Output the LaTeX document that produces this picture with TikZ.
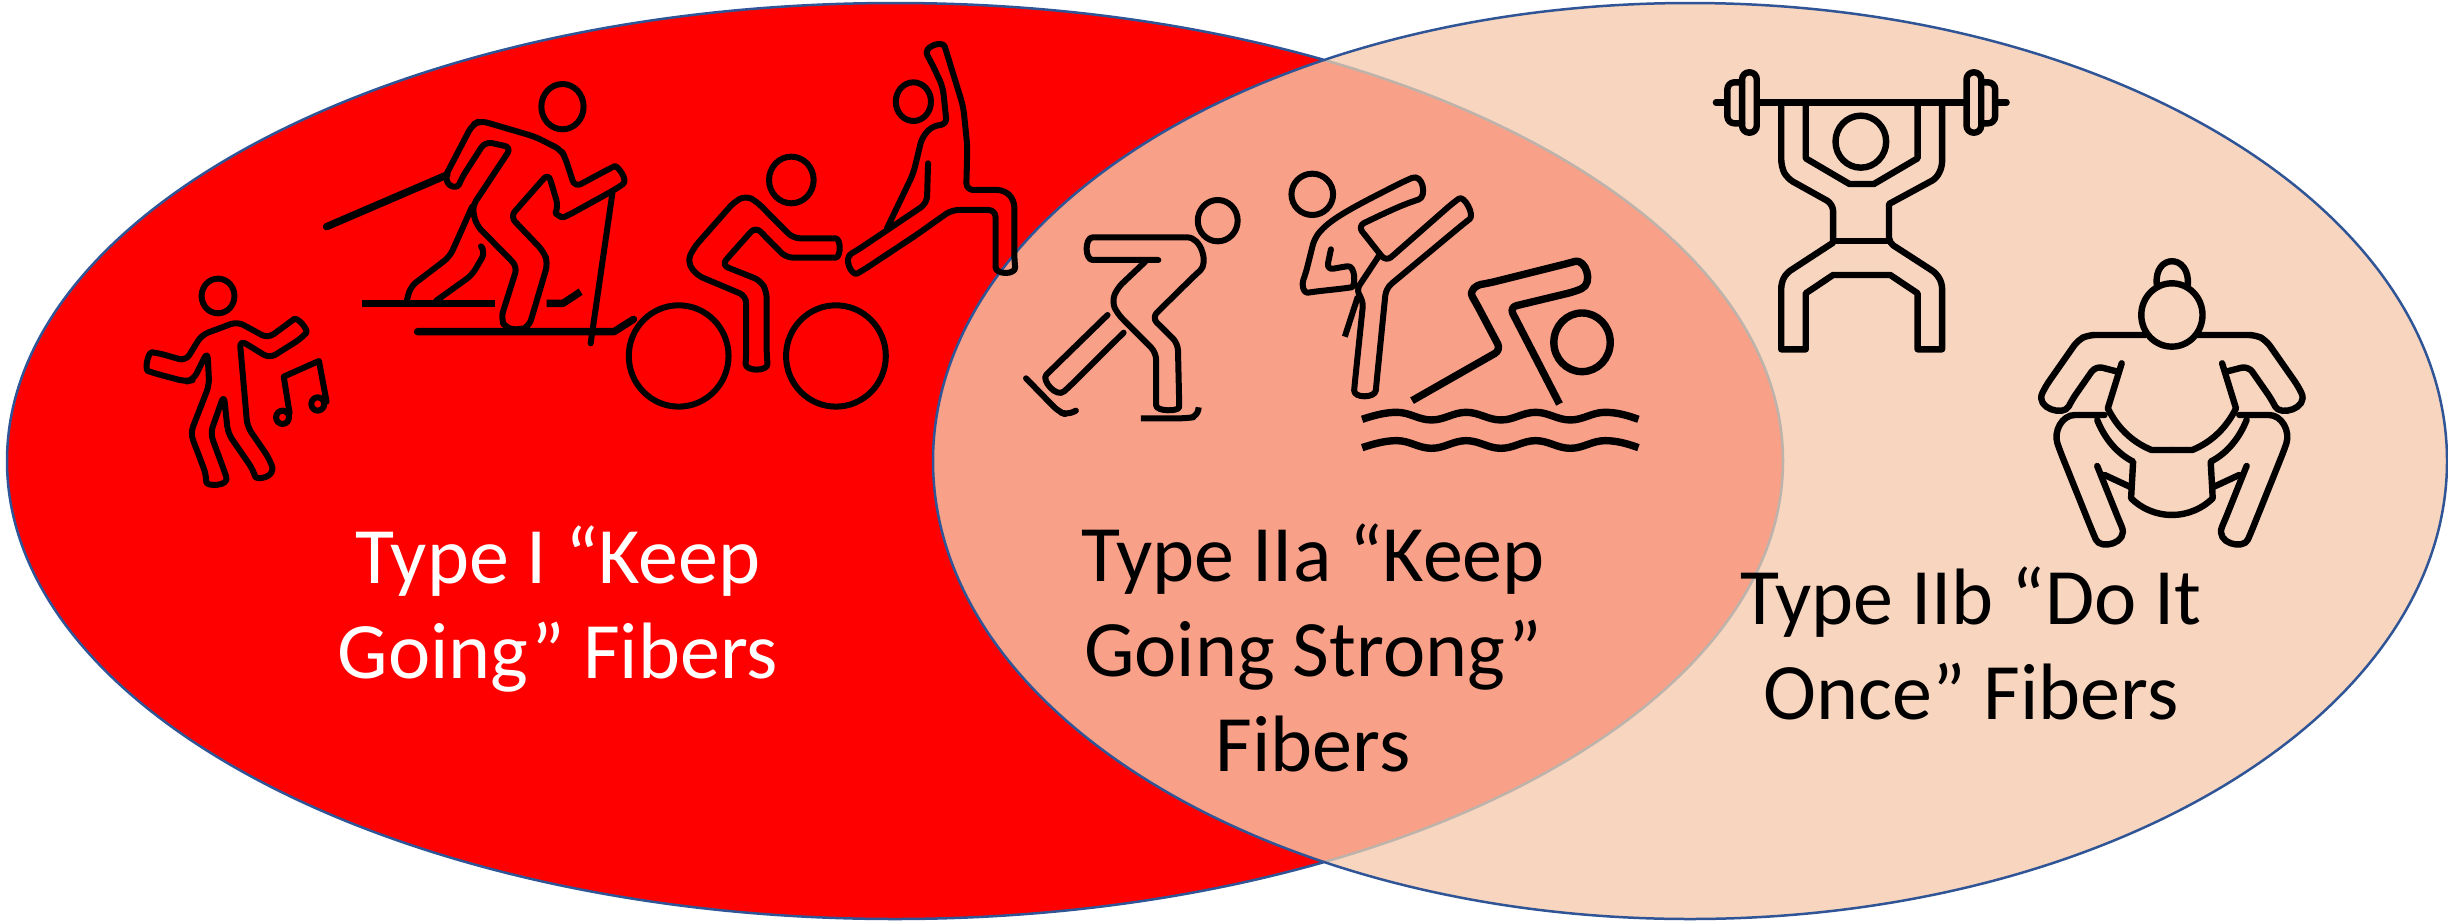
\documentclass[tikz,border=0pt]{standalone}
\usepackage{fontspec}
\setmainfont{Carlito}
\definecolor{edgeblue}{HTML}{2F5597}
\definecolor{peach}{HTML}{F8D5BF}
\definecolor{salmon}{HTML}{F9A088}
\definecolor{edgegrey}{HTML}{BDB3AA}
\tikzset{
  ink/.style={draw=black,line width=6.4pt,line join=round,line cap=round,rounded corners=7pt},
  inkthin/.style={ink,line width=6pt},
  inkbold/.style={ink,line width=7.4pt},
  label/.style={font=\fontsize{80}{95}\selectfont,align=center,inner sep=0pt},
  zoomA/.style={shift={(130,30)},x=0.5868pt,y=-0.3333pt},
  zoomB/.style={shift={(1000,160)},x=0.4337pt,y=-0.3333pt},
  zoomC/.style={shift={(1680,50)},x=0.4082pt,y=-0.3333pt},
}
\newcommand{\sumohalf}{
  \draw[ink] (1140,855) -- (1000,855) -- (975,870) -- (895,1010) .. controls (870,1075) and (940,1100) .. (960,1050) -- (1018,948) -- (1072,965);
  \draw[ink,sharp corners] (1082,940) -- (1048,1075) .. controls (1070,1130) and (1105,1175) .. (1155,1200) -- (1205,1200);
  \draw[ink,sharp corners] (1022,1110) .. controls (1040,1165) and (1070,1210) .. (1110,1235) -- (1105,1345) .. controls (1130,1375) and (1165,1395) .. (1205,1395);
  \draw[ink] (1040,1095) -- (985,1095) .. controls (935,1095) and (915,1145) .. (930,1200) -- (1012,1450) .. controls (1030,1500) and (1100,1480) .. (1075,1410) -- (1022,1248);
  \draw[ink,sharp corners] (1040,1275) -- (1105,1312);
}
\begin{document}
\begin{tikzpicture}[x=1pt,y=-1pt]
\useasboundingbox (0,0) rectangle (2448,921);
% ellipses
\coordinate (cl) at (895,461);
\coordinate (cr) at (1690,461);
\path[fill=red] (cl) ellipse [x radius=888,y radius=458];
\path[fill=peach] (cr) ellipse [x radius=757,y radius=458];
\begin{scope}
  \clip (cl) ellipse [x radius=888,y radius=458];
  \path[fill=salmon] (cr) ellipse [x radius=757,y radius=458];
  \draw[edgeblue,line width=2.5pt] (cr) ellipse [x radius=757,y radius=458];
\end{scope}
\begin{scope}
  \clip (cr) ellipse [x radius=757,y radius=458];
  \draw[edgegrey,line width=2.5pt] (cl) ellipse [x radius=888,y radius=458];
\end{scope}
\begin{scope}
  \clip (-1,-1) rectangle (1324,925);
  \draw[edgeblue,line width=2.5pt] (cl) ellipse [x radius=888,y radius=458];
\end{scope}
\begin{scope}
  \clip (1324,-1) rectangle (2449,925);
  \draw[edgeblue,line width=2.5pt] (cr) ellipse [x radius=757,y radius=458];
\end{scope}
% left icons
\begin{scope}[zoomA]
  % dancer
  \draw[inkthin] (150,798) ellipse [x radius=28,y radius=52];
  \draw[inkthin] (187,930) -- (200,1190) -- (237,1285) .. controls (250,1345) and (215,1350) .. (210,1320) -- (167,1210) -- (160,1095) -- (137,1210) -- (160,1320) .. controls (170,1370) and (130,1370) .. (130,1335) -- (103,1210) -- (135,1065) -- (132,965) -- (108,1050) -- (95,1055) -- (42,1030) .. controls (25,1020) and (30,965) .. (50,970) -- (95,993) -- (122,915) -- (183,875) -- (235,925) -- (270,880) .. controls (285,860) and (305,900) .. (292,925) -- (238,985) -- cycle;
  \draw[inkthin,sharp corners] (272,1150) -- (262,1040) -- (322,993) -- (335,1115);
  \draw[inkthin] (260,1162) ellipse [x radius=11,y radius=20];
  \draw[inkthin] (320,1122) ellipse [x radius=11,y radius=20];
  % skier
  \draw[inkthin] (737,230) ellipse [x radius=36,y radius=68];
  \draw[inkthin] (540,430) -- (583,285) -- (597,272) -- (690,320) -- (735,360) -- (742,385) -- (758,472) -- (815,418) .. controls (830,405) and (850,450) .. (830,475) -- (750,553) .. controls (735,565) and (725,550) .. (730,530) -- (713,430) -- (648,560) -- (705,665) -- (712,700) -- (680,890) -- (665,900) -- (640,895) -- (632,865) -- (660,710) -- (590,585) -- (583,530) -- (650,352) -- (605,335) -- (565,445) .. controls (558,475) and (535,475) .. (540,430);
  \draw[inkthin] (583,530) -- (545,680) -- (478,770) -- (472,810);
  \draw[inkthin] (522,812) -- (583,735) -- (606,665) -- (601,655);
  \draw[inkbold,sharp corners,line cap=butt] (395,820) -- (622,820);
  \draw[inkbold,sharp corners,line cap=butt] (710,820) -- (738,820) -- (768,785);
  \draw[inkbold,sharp corners] (490,905) -- (825,905) -- (858,868);
  \draw[inkbold] (335,590) -- (540,435);
  \draw[inkthin] (822,490) -- (785,940);
  % cyclist
  \draw[inkthin] (1127,450) ellipse [x radius=38,y radius=70];
  \draw[inkthin] (935,978) ellipse [x radius=85,y radius=152];
  \draw[inkthin] (1203,978) ellipse [x radius=85,y radius=152];
  \draw[inkthin] (1130,625) -- (1190,625) .. controls (1212,625) and (1212,683) .. (1190,683) -- (1118,683) -- (1066,590) -- (1008,705) -- (1075,752) -- (1085,785) -- (1085,980) .. controls (1088,1025) and (1048,1025) .. (1050,980) -- (1050,798) -- (965,735) -- (950,695) -- (960,655) -- (1030,515) -- (1050,497) -- (1068,515) -- cycle;
  % runner
  \draw[inkthin] (1335,215) ellipse [x radius=30,y radius=58];
  \draw[inkthin] (1360,400) -- (1358,520) -- (1240,660) .. controls (1215,685) and (1230,740) .. (1250,720) -- (1340,615) -- (1400,540) -- (1475,540) -- (1475,690) .. controls (1475,735) and (1510,735) .. (1507,690) -- (1507,510) -- (1490,480) -- (1425,480) -- (1427,350) -- (1420,230) -- (1392,70) .. controls (1385,30) and (1350,50) .. (1365,95) -- (1385,170) -- (1392,285) -- (1370,285) -- (1350,320) -- (1335,430) -- (1290,595);
\end{scope}
% middle icons
\begin{scope}[zoomB]
  % speed skater
  \draw[inkthin] (502,182) ellipse [x radius=46,y radius=62];
  \draw[inkthin] (365,300) -- (230,300) .. controls (195,300) and (195,232) .. (230,232) -- (415,232) .. controls (465,232) and (480,310) .. (450,345) -- (350,473) -- (410,550) -- (413,720) .. controls (413,755) and (360,755) .. (360,715) -- (360,578) -- (270,460) -- (258,425) -- (270,385) -- (335,305);
  \draw[inkthin] (248,465) -- (118,630) .. controls (95,660) and (130,715) .. (160,680) -- (285,518);
  \draw[inkthin] (60,655) -- (135,755) -- (155,765) -- (175,752);
  \draw[inkthin,line cap=butt] (325,775) -- (430,775) -- (455,770) -- (458,742);
  % diver
  \draw[inkthin] (720,103) ellipse [x radius=48,y radius=62];
  \draw[inkthin] (763,268) -- (753,330) -- (785,322) .. controls (820,315) and (820,380) .. (795,385) -- (725,395) .. controls (700,400) and (695,375) .. (705,340) -- (725,235) .. controls (760,180) and (800,150) .. (935,62) .. controls (975,40) and (985,110) .. (950,125) .. controls (910,145) and (870,170) .. (825,198) -- (890,305) -- (1045,128) .. controls (1070,105) and (1095,165) .. (1070,190) -- (890,385) -- (868,670) .. controls (865,715) and (815,715) .. (818,670) -- (838,420) -- (820,393) -- (875,285);
  \draw[inkthin,line cap=butt] (825,410) -- (795,530);
  % swimmer
  \draw[inkbold] (1342,547) ellipse [x radius=65,y radius=88];
  \draw[inkbold,line cap=butt] (950,722) -- (1155,570) -- (1098,430) .. controls (1080,390) and (1100,375) .. (1125,370) -- (1310,310) .. controls (1350,295) and (1370,370) .. (1325,395) -- (1175,442) -- (1290,732);
  \foreach \wy/\wn in {0/upper,85/lower}{
    \draw[inkbold,line cap=butt,sharp corners] (835,{778+\wy}) .. controls (865,{765+\wy}) and (890,{757+\wy}) .. (915,{757+\wy}) .. controls (945,{757+\wy}) and (965,{780+\wy}) .. (995,{780+\wy}) .. controls (1025,{780+\wy}) and (1045,{757+\wy}) .. (1075,{757+\wy}) .. controls (1105,{757+\wy}) and (1125,{780+\wy}) .. (1155,{780+\wy}) .. controls (1185,{780+\wy}) and (1205,{757+\wy}) .. (1235,{757+\wy}) .. controls (1265,{757+\wy}) and (1285,{780+\wy}) .. (1315,{780+\wy}) .. controls (1345,{780+\wy}) and (1365,{757+\wy}) .. (1395,{757+\wy}) .. controls (1425,{757+\wy}) and (1450,{768+\wy}) .. (1472,{778+\wy});
  }
\end{scope}
% right icons
\begin{scope}[zoomC]
  % weightlifter
  \draw[ink] (443,275) ellipse [x radius=62,y radius=78];
  \draw[ink,sharp corners] (88,157) -- (110,157);
  \draw[ink,sharp corners,line cap=butt] (195,157) -- (695,157);
  \draw[ink,sharp corners] (780,157) -- (800,157);
  \draw[ink,rounded corners=7pt] (152,67) rectangle (188,248);
  \draw[ink,rounded corners=7pt] (152,97) -- (116,97) -- (116,220) -- (152,220);
  \draw[ink,rounded corners=7pt] (702,67) rectangle (738,248);
  \draw[ink,rounded corners=7pt] (738,97) -- (772,97) -- (772,220) -- (738,220);
  \draw[ink,line cap=butt] (248,165) -- (248,350) -- (262,385) -- (375,462) [sharp corners] -- (375,578) [rounded corners=5pt] -- (260,670) -- (248,700) [sharp corners] -- (248,898) -- (308,898) -- (308,730) -- (375,675) -- (515,675) -- (582,730) -- (582,898) -- (642,898) [rounded corners=5pt] -- (642,700) -- (628,670) -- (512,578) [sharp corners] -- (512,462) [rounded corners=5pt] -- (628,385) -- (642,350) -- (642,165);
  \draw[ink,sharp corners,line cap=butt] (308,165) -- (308,325) -- (415,402) -- (475,402) -- (582,325) -- (582,165);
  \draw[ink,sharp corners] (375,573) -- (512,573);
  % sumo
  \draw[ink,sharp corners] (1168,705) .. controls (1160,610) and (1250,610) .. (1244,705);
  \draw[ink] (1205,795) ellipse [x radius=75,y radius=95];
  \sumohalf
  \begin{scope}[shift={(2410,0)},xscale=-1]
    \sumohalf
  \end{scope}
\end{scope}
% labels
\node[label,text=white] (typeone) at (558,609) {Type I “Keep\\Going” Fibers};
\node[label,text=black] (typetwoa) at (1313,648) {Type IIa “Keep\\Going Strong”\\Fibers};
\node[label,text=black] (typetwob) at (1971,643) {Type IIb “Do It\\Once” Fibers};
\end{tikzpicture}
\end{document}
